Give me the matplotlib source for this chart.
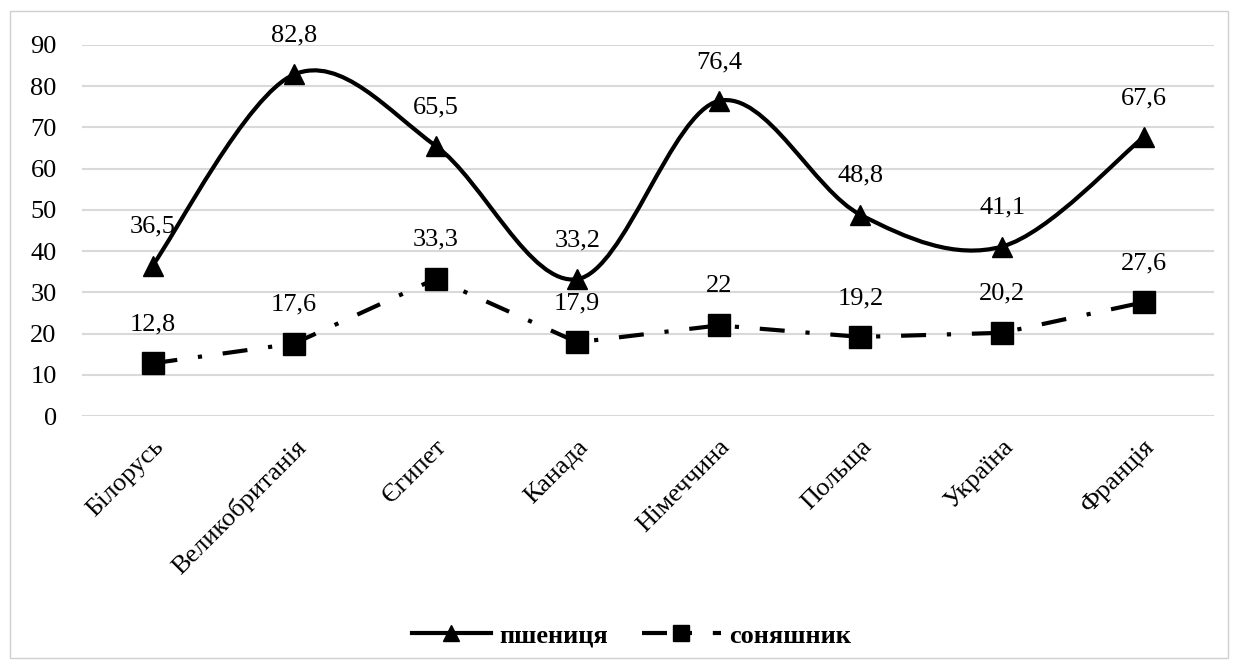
import numpy as np
import matplotlib
matplotlib.use("Agg")
from matplotlib import pyplot as plt
from matplotlib.path import Path
from matplotlib.patches import PathPatch, Rectangle
from matplotlib.lines import Line2D

plt.rcParams['font.family'] = ['Liberation Serif', 'DejaVu Serif']

countries = ['Білорусь', 'Великобританія', 'Єгипет', 'Канада',
             'Німеччина', 'Польща', 'Україна', 'Франція']
wheat = [36.5, 82.8, 65.5, 33.2, 76.4, 48.8, 41.1, 67.6]
sunflower = [12.8, 17.6, 33.3, 17.9, 22, 19.2, 20.2, 27.6]
wheat_labels = ['36,5', '82,8', '65,5', '33,2', '76,4', '48,8', '41,1', '67,6']
sun_labels = ['12,8', '17,6', '33,3', '17,9', '22', '19,2', '20,2', '27,6']
series_names = ['пшениця', 'соняшник']


def smooth_path(xs, ys):
    # Excel-like smoothed line: cubic Bezier segments (Catmull-Rom control points)
    pts = np.column_stack([xs, ys]).astype(float)
    n = len(pts)
    verts = [pts[0]]
    codes = [Path.MOVETO]
    for i in range(n - 1):
        p_prev = pts[i - 1] if i > 0 else pts[i]
        p_next2 = pts[i + 2] if i + 2 < n else pts[i + 1]
        c1 = pts[i] + (pts[i + 1] - p_prev) / 6
        c2 = pts[i + 1] - (p_next2 - pts[i]) / 6
        verts += [c1, c2, pts[i + 1]]
        codes += [Path.CURVE4] * 3
    return Path(verts, codes)


fig = plt.figure(figsize=(12.38, 6.68), dpi=100)
ax = fig.add_axes([0.066, 0.377, 0.915, 0.556])

x = np.arange(len(countries))

ax.add_patch(PathPatch(smooth_path(x, wheat), fill=False, lw=3, color='black',
                       capstyle='round', zorder=3))
ax.plot(x, wheat, linestyle='none', marker='^', markersize=15, color='black', zorder=4)

ax.plot(x, sunflower, color='black', lw=3, dashes=(6, 5, 1, 5), dash_capstyle='butt',
        marker='s', markersize=16, zorder=4)

for xi, yi, lab in zip(x, wheat, wheat_labels):
    ax.annotate(lab, (xi, yi), xytext=(0, 28), textcoords='offset points',
                ha='center', va='center', fontsize=19)
for xi, yi, lab in zip(x, sunflower, sun_labels):
    ax.annotate(lab, (xi, yi), xytext=(0, 28), textcoords='offset points',
                ha='center', va='center', fontsize=19)

ax.set_xlim(-0.5, len(countries) - 0.5)
ax.set_ylim(0, 90)
ax.set_yticks(range(0, 91, 10))
ax.set_xticks(x)
ax.set_xticklabels(countries, rotation=45, ha='right', rotation_mode='anchor', fontsize=19)
ax.tick_params(axis='both', length=0, labelsize=19)
ax.tick_params(axis='y', pad=18)
ax.tick_params(axis='x', pad=14)
ax.grid(axis='y', color='#d9d9d9', lw=1.5)
ax.set_axisbelow(True)
for s in ax.spines.values():
    s.set_visible(False)

handles = [
    Line2D([], [], color='black', lw=3, marker='^', markersize=11),
    Line2D([], [], color='black', lw=3, dashes=(6, 5, 1, 5), marker='s', markersize=12),
]
fig.legend(handles, series_names, loc='center', bbox_to_anchor=(0.51, 0.048), ncol=2,
           frameon=False, prop={'size': 19, 'weight': 'bold'}, handlelength=3.0,
           handletextpad=0.3, columnspacing=1.3)

fig.add_artist(Rectangle((0.008, 0.015), 0.984, 0.968, transform=fig.transFigure,
                         fill=False, edgecolor='#d0d0d0', lw=1))

fig.savefig('out.png', dpi=100)
